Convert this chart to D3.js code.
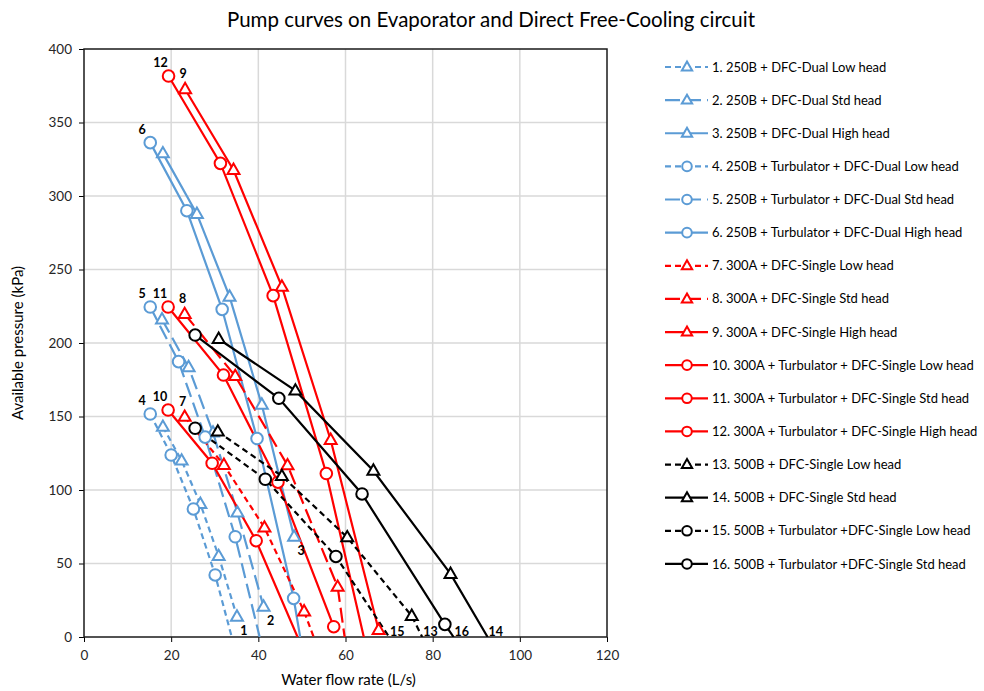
<!DOCTYPE html>
<html><head><meta charset="utf-8">
<script src="https://cdn.jsdelivr.net/npm/d3@7"></script>
<style>
body{margin:0;background:#fff;}
svg text{font-family:Lato,"Open Sans","Noto Sans",sans-serif;}
</style>
</head><body>
<svg id="chart" width="984" height="691"></svg>
<script>
// ---------------- DATA ----------------
const seriesNames = [
  "1. 250B + DFC-Dual Low head",
  "2. 250B + DFC-Dual Std head",
  "3. 250B + DFC-Dual High head",
  "4. 250B + Turbulator + DFC-Dual Low head",
  "5. 250B + Turbulator + DFC-Dual Std head",
  "6. 250B + Turbulator + DFC-Dual High head",
  "7. 300A + DFC-Single Low head",
  "8. 300A + DFC-Single Std head",
  "9. 300A + DFC-Single High head",
  "10. 300A + Turbulator + DFC-Single Low head",
  "11. 300A + Turbulator + DFC-Single Std head",
  "12. 300A + Turbulator + DFC-Single High head",
  "13. 500B + DFC-Single Low head",
  "14. 500B + DFC-Single Std head",
  "15. 500B + Turbulator +DFC-Single Low head",
  "16. 500B + Turbulator +DFC-Single Std head"
];
const seriesLabels = ["1","2","3","4","5","6","7","8","9","10","11","12","13","14","15","16"];
// water flow rate (L/s) at each marked point
const flowRates = [
  [18.1, 22.4, 26.7, 30.9, 35.1],
  [17.9, 24.0, 29.6, 35.2, 41.2],
  [18.1, 25.9, 33.4, 40.8, 48.2],
  [15.2, 20.0, 25.1, 30.1],
  [15.2, 21.7, 27.8, 34.7],
  [15.2, 23.6, 31.7, 39.7, 48.1],
  [23.1, 32.1, 41.4, 50.5],
  [23.1, 34.7, 46.7, 58.2],
  [23.2, 34.3, 45.4, 56.6, 67.6],
  [19.3, 29.4, 39.5],
  [19.3, 32.0, 44.5, 57.3],
  [19.4, 31.3, 43.4, 55.6],
  [30.7, 45.4, 60.4, 75.2],
  [30.9, 48.5, 66.4, 84.1],
  [25.5, 41.6, 57.8],
  [25.5, 44.7, 63.8, 82.8]
];
// available pressure (kPa) at each marked point
const pressures = [
  [143, 120, 90.5, 55, 13.8],
  [216, 183.5, 139, 84.6, 20.6],
  [329, 287.8, 231.5, 158, 68.2],
  [151.7, 123.8, 87.1, 42.2],
  [224.5, 187.3, 136, 68.2],
  [336.3, 290, 222.9, 135, 26.3],
  [149.8, 117, 74.4, 17.4],
  [219.7, 177.5, 116.8, 34.1],
  [372.6, 317.7, 238.3, 134, 4.8],
  [154.4, 118.2, 65.5],
  [224.5, 178.2, 105.3, 7],
  [381.6, 322.2, 232.2, 111.2],
  [139.7, 109.5, 67.8, 14.3],
  [202.7, 167.6, 113.1, 42.9],
  [142, 107.3, 54.8],
  [205.4, 162.4, 97.3, 8.6]
];
// flow rate where the curve reaches zero pressure (unmarked end of the line)
const zeroPressureFlow = [null, null, null, 33.9, 40.3, 49.6, 52.7, 59.8, null, 49.0, null, 64.2, 77.6, 92.6, 70.0, 84.8];
const pumpGroup = ["250B","250B","250B","250B","250B","250B","300A","300A","300A","300A","300A","300A","500B","500B","500B","500B"];
const lineStyle = ["short","long","solid","short","long","solid","short","long","solid","solid","solid","solid","short","solid","short","solid"];
const markerType = ["tri","tri","tri","circ","circ","circ","tri","tri","tri","circ","circ","circ","tri","tri","circ","circ"];
const labelAt = ["last","last","last","first","first","first","first","first","first","first","first","first","end","end","end","end"];
const xTicks = [0, 20, 40, 60, 80, 100, 120];
const yTicks = [0, 50, 100, 150, 200, 250, 300, 350, 400];

// ---------------- STYLE ----------------
const groupColor = {"250B":"#5B9BD5","300A":"#FF0000","500B":"#000000"};
const dashPattern = {short:"6,4", long:"15,6", solid:null};

const svg = d3.select("#chart");
const W = 984, H = 691;
const L = 84, R = 607, T = 49, B = 637;
const x = d3.scaleLinear().domain([0,120]).range([L,R]);
const y = d3.scaleLinear().domain([0,400]).range([B,T]);

svg.append("rect").attr("width",W).attr("height",H).attr("fill","#fff");

// title
svg.append("text").attr("x",491).attr("y",27).attr("text-anchor","middle")
  .style("font-size","20.5px").attr("fill","#000")
  .text("Pump curves on Evaporator and Direct Free-Cooling circuit");

// gridlines
svg.append("g").selectAll("line").data(xTicks.filter(d=>d>0 && d<120)).join("line")
  .attr("x1",d=>x(d)).attr("x2",d=>x(d)).attr("y1",T).attr("y2",B)
  .attr("stroke","#d9d9d9").attr("stroke-width",1.5);
svg.append("g").selectAll("line").data(yTicks.filter(d=>d>0 && d<400)).join("line")
  .attr("y1",d=>y(d)).attr("y2",d=>y(d)).attr("x1",L).attr("x2",R)
  .attr("stroke","#d9d9d9").attr("stroke-width",1.5);

// axes
const xAxis = svg.append("g").attr("transform",`translate(0,${B})`)
  .call(d3.axisBottom(x).tickValues(xTicks).tickSize(5).tickPadding(8).tickSizeOuter(0));
const yAxis = svg.append("g").attr("transform",`translate(${L},0)`)
  .call(d3.axisLeft(y).tickValues(yTicks).tickSize(5).tickPadding(7).tickSizeOuter(0));
[xAxis,yAxis].forEach(a=>{
  a.select(".domain").remove();
  a.selectAll("line").attr("stroke","#000").attr("stroke-width",1);
  a.selectAll("text").style("font-size","13.5px").attr("fill","#262626").style("font-family","Lato,'Open Sans',sans-serif");
});

// plot border
svg.append("rect").attr("x",L).attr("y",T).attr("width",R-L).attr("height",B-T)
  .attr("fill","none").attr("stroke","#1a1a1a").attr("stroke-width",1.5);

// axis titles
svg.append("text").attr("x",(L+R)/2 + 3).attr("y",685).attr("text-anchor","middle")
  .style("font-size","15px").attr("fill","#000").text("Water flow rate (L/s)");
svg.append("text").attr("transform",`translate(23,${(T+B)/2}) rotate(-90)`).attr("text-anchor","middle")
  .style("font-size","15px").attr("fill","#000").text("Available pressure (kPa)");

// clip
svg.append("clipPath").attr("id","plotclip").append("rect")
  .attr("x",L).attr("y",T-10).attr("width",R-L).attr("height",B-T+10);

const series = seriesNames.map((name,i)=>{
  const pts = flowRates[i].map((f,j)=>({f, p: pressures[i][j], marked:true}));
  if (zeroPressureFlow[i] !== null) pts.push({f: zeroPressureFlow[i], p: 0, marked:false});
  return {i, name, pts, color: groupColor[pumpGroup[i]], dash: dashPattern[lineStyle[i]], marker: markerType[i]};
});

const line = d3.line().x(d=>x(d.f)).y(d=>y(d.p));
const triSym = d3.symbol().type(d3.symbolTriangle).size(62);
const triSymLeg = d3.symbol().type(d3.symbolTriangle).size(46);
const gSeries = svg.append("g").attr("clip-path","url(#plotclip)");

function drawMarker(g, type, cx, cy, color, small){
  if (type === "tri") {
    g.append("path").attr("d", (small?triSymLeg:triSym)()).attr("transform",`translate(${cx},${cy+0.5})`)
      .attr("fill","#fff").attr("stroke",color).attr("stroke-width",2);
  } else {
    g.append("circle").attr("cx",cx).attr("cy",cy).attr("r",small?4.8:5.8)
      .attr("fill","#fff").attr("stroke",color).attr("stroke-width",2);
  }
}

series.forEach(s=>{
  gSeries.append("path").attr("d", line(s.pts)).attr("fill","none")
    .attr("stroke", s.color).attr("stroke-width",2.2)
    .attr("stroke-dasharray", s.dash);
});
series.forEach(s=>{
  s.pts.filter(d=>d.marked).forEach(d=>drawMarker(gSeries, s.marker, x(d.f), y(d.p), s.color, false));
});

// series number labels
const gLab = svg.append("g");
series.forEach(s=>{
  const t = labelAt[s.i];
  let px, py, anchor = "middle";
  if (t === "first") {
    const d = s.pts[0];
    const dx = s.marker === "tri" ? -2 : -8, dy = s.marker === "tri" ? -11 : -9;
    px = x(d.f) + dx; py = y(d.p) + dy;
  } else if (t === "last") {
    const m = s.pts.filter(d=>d.marked); const d = m[m.length-1];
    px = x(d.f) + 7; py = y(d.p) + 18;
  } else {
    const d = s.pts[s.pts.length-1];
    px = x(d.f) + 1; py = B - 1; anchor = "start";
  }
  gLab.append("text").attr("x",px).attr("y",py).attr("text-anchor",anchor)
    .style("font-size","12.5px").style("font-weight","bold").attr("fill","#000").text(seriesLabels[s.i]);
});

// legend
const gLeg = svg.append("g");
series.forEach((s,k)=>{
  const cy = 67 + k*33.13;
  gLeg.append("line").attr("x1",665).attr("x2",708).attr("y1",cy).attr("y2",cy)
    .attr("stroke",s.color).attr("stroke-width",2.2).attr("stroke-dasharray",s.dash);
  drawMarker(gLeg, s.marker, 687, cy, s.color, true);
  gLeg.append("text").attr("x",712).attr("y",cy).attr("dy","0.35em")
    .style("font-size","13px").attr("fill","#000").text(s.name);
});
</script>
</body></html>
